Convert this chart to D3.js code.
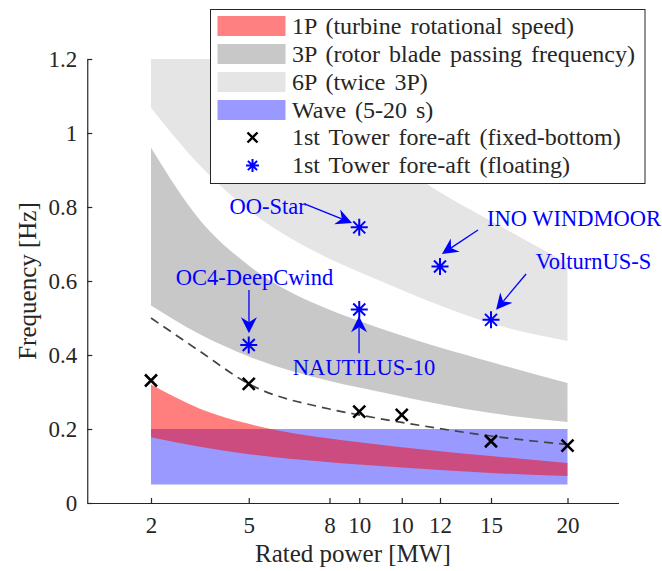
<!DOCTYPE html>
<html>
  <head>
    <script src="https://d3js.org/d3.v7.min.js" charset="utf-8"></script>
    <meta charset="UTF-8">
    <title>frequency bands vs rated power</title>
    <style>
      body { margin: 0; background: #fff; }
      svg text { font-family: "Liberation Serif", "Times New Roman", serif !important; }
      .axis path, .axis line { stroke: #262626; stroke-width: 1.2; }
    </style>
  </head>
  <body>
    <svg class="chart"></svg>
    <script type="text/javascript">

     var width = 662,
         height = 571,
         serif = "'Liberation Serif', 'Times New Roman', serif";

     // x axis is laid out on rotor diameter [m], labelled with rated power [MW]
     var tickDiam  = [80, 126, 164, 178, 198, 216, 240, 276];
     var tickPower = ["2", "5", "8", "10", "10", "12", "15", "20"];

     // band edges sampled at these diameters
     var diam    = [80, 103, 126, 164, 178, 198, 216, 240, 276];
     var p1High  = [0.320, 0.255, 0.214, 0.174, 0.164, 0.151, 0.140, 0.127, 0.108];
     var p1Low   = [0.178, 0.152, 0.132, 0.110, 0.104, 0.096, 0.089, 0.081, 0.073];
     var p3High  = [0.960, 0.765, 0.642, 0.522, 0.492, 0.453, 0.420, 0.381, 0.324];
     var p3Low   = [0.534, 0.456, 0.396, 0.330, 0.312, 0.288, 0.267, 0.243, 0.219];
     var p6High  = [1.920, 1.530, 1.284, 1.044, 0.984, 0.906, 0.840, 0.762, 0.648];
     var p6Low   = [1.068, 0.912, 0.792, 0.660, 0.624, 0.576, 0.534, 0.486, 0.438];

     var waveDiam = [80, 276];
     var waveHigh = [0.2, 0.2];   // 5 s
     var waveLow  = [0.05, 0.05]; // 20 s

     // dashed trend of the fixed-bottom towers
     var trendDiam = [80, 103, 126, 164, 178, 198, 216, 240, 276];
     var trendFreq = [0.500, 0.410, 0.322, 0.254, 0.238, 0.218, 0.201, 0.181, 0.158];

     var fixedDiam = [80, 126, 178, 198, 240, 276];
     var fixedFreq = [0.331, 0.322, 0.247, 0.238, 0.167, 0.155];

     var floatName = ["OC4-DeepCwind", "NAUTILUS-10", "OO-Star", "INO WINDMOOR", "VolturnUS-S"];
     var floatDiam = [126, 178, 178, 216, 240];
     var floatFreq = [0.427, 0.523, 0.745, 0.639, 0.495];

     var legendLabels = ["1P (turbine rotational speed)",
                         "3P (rotor blade passing frequency)",
                         "6P (twice 3P)",
                         "Wave (5-20 s)",
                         "1st Tower fore-aft (fixed-bottom)",
                         "1st Tower fore-aft (floating)"];

     var margin = {left: 87.25, right: 618.5, top: 59, bottom: 503};

     var chart = d3.select(".chart")
                   .attr("width", width)
                   .attr("height", height)
                   .style("font-family", serif);

     var x = d3.scaleLinear().domain([50, 300]).range([margin.left, margin.right]);
     var y = d3.scaleLinear().domain([0, 1.2]).range([margin.bottom, margin.top]);

     chart.append("defs").append("clipPath").attr("id", "plotclip")
          .append("rect")
          .attr("x", margin.left).attr("y", margin.top)
          .attr("width", margin.right - margin.left)
          .attr("height", margin.bottom - margin.top);

     var plot = chart.append("g").attr("clip-path", "url(#plotclip)");

     function band(xs, lo, hi) {
         return d3.area()
                  .x(function(d, i) { return x(xs[i]); })
                  .y0(function(d, i) { return y(lo[i]); })
                  .y1(function(d, i) { return y(hi[i]); })
                  .curve(d3.curveMonotoneX)(xs);
     }

     plot.append("path").attr("d", band(diam, p6Low, p6High)).attr("fill", "#e5e5e5");
     plot.append("path").attr("d", band(diam, p3Low, p3High)).attr("fill", "#c8c8c8");
     plot.append("path").attr("d", band(waveDiam, waveLow, waveHigh))
         .attr("fill", "#0000ff").attr("fill-opacity", 0.4);
     plot.append("path").attr("d", band(diam, p1Low, p1High))
         .attr("fill", "#ff0000").attr("fill-opacity", 0.5);

     var trend = d3.line()
                   .x(function(d, i) { return x(trendDiam[i]); })
                   .y(function(d, i) { return y(trendFreq[i]); })
                   .curve(d3.curveMonotoneX);
     plot.append("path").attr("d", trend(trendDiam))
         .attr("fill", "none").attr("stroke", "#444")
         .attr("stroke-width", 1.7).attr("stroke-dasharray", "9,6");

     // axes, matlab style: ticks pointing inwards
     var xAxis = d3.axisBottom(x).tickValues(tickDiam)
                   .tickFormat(function(d, i) { return tickPower[i]; })
                   .tickSizeInner(-5).tickSizeOuter(0).tickPadding(14);
     var yAxis = d3.axisLeft(y).tickValues([0, 0.2, 0.4, 0.6, 0.8, 1, 1.2])
                   .tickFormat(d3.format("~g"))
                   .tickSizeInner(-5).tickSizeOuter(0).tickPadding(10);

     var gx = chart.append("g").attr("class", "axis")
          .attr("transform", "translate(0," + margin.bottom + ")")
          .call(xAxis);
     var gy = chart.append("g").attr("class", "axis")
          .attr("transform", "translate(" + margin.left + ",0)")
          .call(yAxis);
     [gx, gy].forEach(function(g) {
         g.attr("font-family", serif).attr("font-size", 23);
         g.selectAll("text").attr("fill", "#262626").style("font-family", serif).style("font-size", "23px");
     });

     chart.append("text")
          .attr("x", (margin.left + margin.right) / 2)
          .attr("y", 562)
          .attr("text-anchor", "middle")
          .attr("fill", "#262626")
          .style("font-family", serif).style("font-size", "25px")
          .text("Rated power [MW]");
     chart.append("text")
          .attr("transform", "translate(36," + (margin.top + margin.bottom) / 2 + ") rotate(-90)")
          .attr("text-anchor", "middle")
          .attr("fill", "#262626")
          .style("font-family", serif).style("font-size", "25px")
          .text("Frequency [Hz]");

     // markers
     function crossPath(s) {
         return "M" + (-s) + "," + (-s) + "L" + s + "," + s +
                "M" + (-s) + "," + s + "L" + s + "," + (-s);
     }
     function starPath(s) {
         var d = "", a = s * Math.SQRT1_2;
         d += "M0," + (-s) + "L0," + s;
         d += "M" + (-s) + ",0L" + s + ",0";
         d += "M" + (-a) + "," + (-a) + "L" + a + "," + a;
         d += "M" + (-a) + "," + a + "L" + a + "," + (-a);
         return d;
     }

     chart.append("g").selectAll("path")
          .data(fixedDiam).enter().append("path")
          .attr("transform", function(d, i) { return "translate(" + x(d) + "," + y(fixedFreq[i]) + ")"; })
          .attr("d", crossPath(6))
          .attr("stroke", "#000").attr("stroke-width", 2.6).attr("fill", "none");

     chart.append("g").selectAll("path")
          .data(floatDiam).enter().append("path")
          .attr("transform", function(d, i) { return "translate(" + x(d) + "," + y(floatFreq[i]) + ")"; })
          .attr("d", starPath(8.5))
          .attr("stroke", "#0000ff").attr("stroke-width", 2).attr("fill", "none");

     // annotations, in data units: label anchor and arrow from/to
     var notes = [
         {name: floatName[0], tx: 128.7, tf: 0.611, anchor: "middle", x1: 126.1, f1: 0.576, x2: 126.1, f2: 0.459},
         {name: floatName[1], tx: 180.2, tf: 0.368, anchor: "middle", x1: 177.9, f1: 0.405, x2: 177.9, f2: 0.505},
         {name: floatName[2], tx: 152.8, tf: 0.803, anchor: "end",    x1: 152.5, f1: 0.808, x2: 174.6, f2: 0.757},
         {name: floatName[3], tx: 238.1, tf: 0.770, anchor: "start",  x1: 233.9, f1: 0.738, x2: 216.9, f2: 0.673},
         {name: floatName[4], tx: 260.9, tf: 0.654, anchor: "start",  x1: 256.5, f1: 0.619, x2: 242.4, f2: 0.522}
     ];

     var note = chart.append("g");
     notes.forEach(function(n) {
         var ax = x(n.x1), ay = y(n.f1), bx = x(n.x2), by = y(n.f2);
         var ang = Math.atan2(by - ay, bx - ax) * 180 / Math.PI;
         var L = 16, W = 8, notch = 5;
         var len = Math.hypot(bx - ax, by - ay);
         note.append("line")
             .attr("x1", ax).attr("y1", ay)
             .attr("x2", ax + (bx - ax) * (len - L + notch) / len)
             .attr("y2", ay + (by - ay) * (len - L + notch) / len)
             .attr("stroke", "#0000ff").attr("stroke-width", 1.3);
         note.append("path")
             .attr("transform", "translate(" + bx + "," + by + ") rotate(" + ang + ")")
             .attr("d", "M0,0L" + (-L) + "," + W + "L" + (-L + notch) + ",0L" + (-L) + "," + (-W) + "Z")
             .attr("fill", "#0000ff");
         note.append("text")
             .attr("x", x(n.tx)).attr("y", y(n.tf))
             .attr("dy", "0.35em")
             .attr("text-anchor", n.anchor)
             .attr("fill", "#0000ff")
             .style("font-family", serif).style("font-size", "22.5px")
             .text(n.name);
     });

     // legend
     var legend = chart.append("g");
     legend.append("rect")
           .attr("x", 210.5).attr("y", 9.5).attr("width", 434.5).attr("height", 174)
           .attr("fill", "#fff").attr("stroke", "#262626").attr("stroke-width", 1);

     var legendFill = ["#ff8080", "#c8c8c8", "#e5e5e5", "#9999ff"];
     var rowY = [26, 54, 82, 110, 137.5, 165.5];

     legend.selectAll("rect.key").data(legendFill).enter().append("rect")
           .attr("class", "key")
           .attr("x", 217.5).attr("y", function(d, i) { return rowY[i] - 10; })
           .attr("width", 68).attr("height", 20)
           .attr("fill", function(d) { return d; });

     legend.append("path")
           .attr("transform", "translate(252.5," + rowY[4] + ")")
           .attr("d", crossPath(5)).attr("stroke", "#000").attr("stroke-width", 2.4);
     legend.append("path")
           .attr("transform", "translate(252.5," + rowY[5] + ")")
           .attr("d", starPath(6.5)).attr("stroke", "#0000ff").attr("stroke-width", 2);

     legend.selectAll("text").data(legendLabels).enter().append("text")
           .attr("x", 292).attr("y", function(d, i) { return rowY[i]; })
           .attr("dy", "0.33em")
           .attr("fill", "#262626")
           .style("font-family", serif).style("font-size", "24px")
           .attr("word-spacing", 3)
           .text(function(d) { return d; });

    </script>
  </body>
</html>
